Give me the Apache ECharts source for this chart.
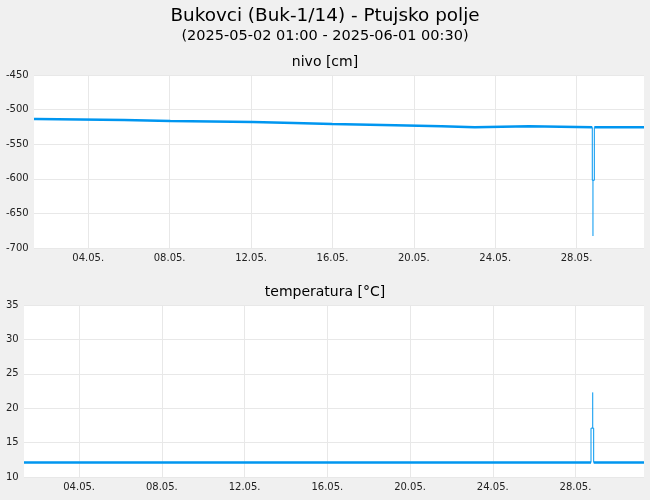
<!DOCTYPE html>
<html><head><meta charset="utf-8">
<script src="https://cdn.jsdelivr.net/npm/echarts@6/dist/echarts.min.js"></script>
<style>html,body{margin:0;padding:0;background:#f0f0f0}#c{width:650px;height:500px}</style>
</head><body><div id="c"></div>
<script>
// x values are hours since 2025-05-02 01:00
const xTickHours = [64, 160, 256, 352, 448, 544, 640];
const xTickLabels = ['04.05.', '08.05.', '12.05.', '16.05.', '20.05.', '24.05.', '28.05.'];
const xMaxHours = 719.5;

// nivo [cm]: step levels, each held until the next time (null = gap in the thick line)
const nivoTime  = [0, 2.4, 106.2, 160.8, 258, 306.7, 351.5, 425.8, 480.9, 519.9, 583.9, 658.5, 660.9, 719.5];
const nivoValue = [-513.6, -515, -516.5, -518, -519.4, -520.8, -522.7, -524.1, -525.6, -524.1, -525.6, null, -525.6, -525.6];
// nivo spike: box walls and thin extreme line
const nivoSpikeTime  = [658.5, 658.5, 660.9, 660.9];
const nivoSpikeValue = [-525.6, -602.2, -602.2, -525.6];
const nivoTailTime  = [659.3, 659.3];
const nivoTailValue = [-602.2, -682.7];

// temperatura [°C]
const tempTime  = [0, 658, 661.1, 719.5];
const tempValue = [12.1, null, 12.1, 12.1];
const tempSpikeTime  = [658, 658, 661.1, 661.1];
const tempSpikeValue = [12.1, 17.1, 17.1, 12.1];
const tempTailTime  = [660, 660];
const tempTailValue = [17.1, 22.3];

const pair = (t, v) => t.map((x, i) => [x, v[i] === null ? '-' : v[i]]);
// each level is held from its time until the next time
function steps(t, v) {
  const out = [];
  for (let i = 0; i < t.length; i++) {
    if (v[i] === null) { out.push([t[i], '-']); continue; }
    out.push([t[i], v[i]]);
    if (i + 1 < t.length) out.push([t[i + 1], v[i]]);
  }
  return out;
}

const LINE = '#0096f0';
const GRIDC = '#e8e8e8';
const FONT = 'DejaVu Sans';

function xAxis(gridIndex) {
  return {
    type: 'value', gridIndex, min: 0, max: xMaxHours,
    axisLine: { show: false },
    axisTick: { show: false, customValues: xTickHours },
    axisLabel: {
      customValues: xTickHours, fontSize: 10, color: '#222', margin: 5, fontFamily: FONT,
      formatter: v => { const i = xTickHours.indexOf(v); return i >= 0 ? xTickLabels[i] : ''; }
    },
    splitLine: { show: true, lineStyle: { color: GRIDC, width: 1 } }
  };
}
function yAxis(gridIndex, min, max, interval, margin) {
  return {
    type: 'value', gridIndex, min, max, interval,
    axisLine: { show: false }, axisTick: { show: false },
    axisLabel: { align: 'left', margin, fontSize: 10, color: '#222', fontFamily: FONT },
    splitLine: { show: true, lineStyle: { color: GRIDC, width: 1 } }
  };
}

const chart = echarts.init(document.getElementById('c'));
chart.setOption({
  backgroundColor: '#f0f0f0',
  animation: false,
  textStyle: { fontFamily: FONT },
  title: [
    { text: 'Bukovci (Buk-1/14) - Ptujsko polje', left: 'center', top: 2,
      textStyle: { fontSize: 18.4, fontWeight: 'normal', color: '#000', fontFamily: FONT } },
    { text: '(2025-05-02 01:00 - 2025-06-01 00:30)', left: 'center', top: 24,
      textStyle: { fontSize: 14.5, fontWeight: 'normal', color: '#000', fontFamily: FONT } },
    { text: 'nivo [cm]', left: 'center', top: 50,
      textStyle: { fontSize: 14, fontWeight: 'normal', color: '#000', fontFamily: FONT } },
    { text: 'temperatura [°C]', left: 'center', top: 280,
      textStyle: { fontSize: 14, fontWeight: 'normal', color: '#000', fontFamily: FONT } }
  ],
  grid: [
    { left: 34, top: 75, width: 610, height: 173, show: true, backgroundColor: '#fff', borderWidth: 0 },
    { left: 24, top: 305, width: 620, height: 172, show: true, backgroundColor: '#fff', borderWidth: 0 }
  ],
  xAxis: [xAxis(0), xAxis(1)],
  yAxis: [yAxis(0, -700, -450, 50, 28), yAxis(1, 10, 35, 5, 18)],
  series: [
    { type: 'line', xAxisIndex: 0, yAxisIndex: 0, symbol: 'none', silent: true,
      data: steps(nivoTime, nivoValue), lineStyle: { color: LINE, width: 2.5 } },
    { type: 'line', xAxisIndex: 0, yAxisIndex: 0, symbol: 'none', silent: true,
      data: pair(nivoSpikeTime, nivoSpikeValue), lineStyle: { color: LINE, width: 1 } },
    { type: 'line', xAxisIndex: 0, yAxisIndex: 0, symbol: 'none', silent: true,
      data: pair(nivoTailTime, nivoTailValue), lineStyle: { color: LINE, width: 1 } },
    { type: 'line', xAxisIndex: 1, yAxisIndex: 1, symbol: 'none', silent: true,
      data: steps(tempTime, tempValue), lineStyle: { color: LINE, width: 2.5 } },
    { type: 'line', xAxisIndex: 1, yAxisIndex: 1, symbol: 'none', silent: true,
      data: pair(tempSpikeTime, tempSpikeValue), lineStyle: { color: LINE, width: 1 } },
    { type: 'line', xAxisIndex: 1, yAxisIndex: 1, symbol: 'none', silent: true,
      data: pair(tempTailTime, tempTailValue), lineStyle: { color: LINE, width: 1 } }
  ]
});
</script></body></html>
